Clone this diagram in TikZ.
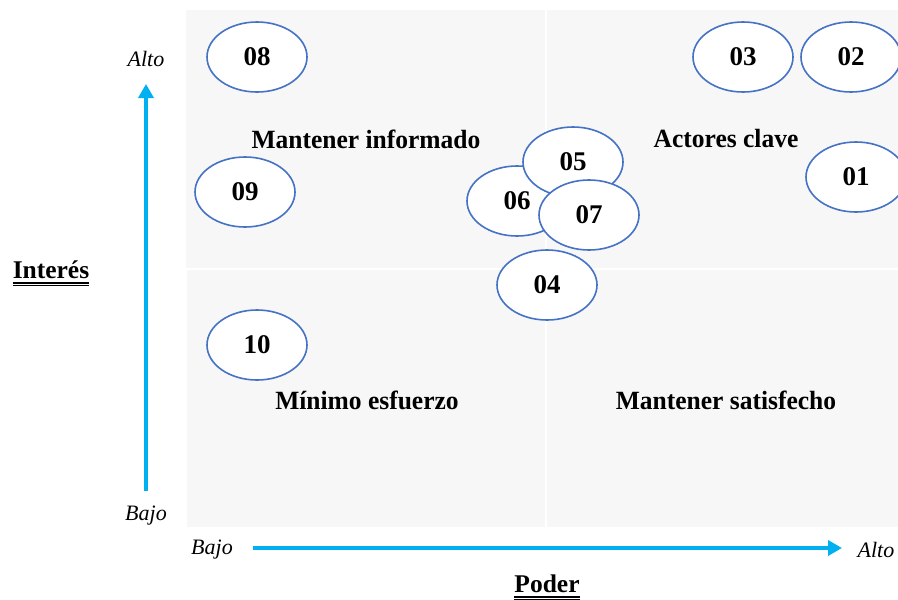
\documentclass[tikz,border=0pt]{standalone}
\usepackage{fontspec}
\setmainfont{Liberation Serif}
\newfontfamily\narrowserif[FakeStretch=0.97]{Liberation Serif}
\usetikzlibrary{arrows.meta,shapes.geometric}
\definecolor{quadfill}{RGB}{247,247,247}
\definecolor{actoredge}{RGB}{68,114,196}
\definecolor{axiscol}{RGB}{0,176,240}
\begin{document}
\begin{tikzpicture}[x=1pt,y=-1pt,
  quadrant/.style={fill=quadfill,draw=none},
  actor/.style={ellipse,draw=actoredge,fill=white,line width=1.6pt,
    minimum width=100pt,minimum height=70pt,inner sep=0pt,
    font=\fontsize{27}{27}\selectfont\bfseries},
  zone/.style={font=\narrowserif\fontsize{26.3}{28}\selectfont\bfseries},
  level/.style={font=\fontsize{22}{24}\selectfont\itshape},
  axistitle/.style={inner sep=0pt,font=\fontsize{25.5}{27}\selectfont\bfseries},
  ulthick/.style={line width=2pt},
  ulthin/.style={line width=0.8pt},
  axisarrow/.style={draw=axiscol,line width=4pt,
    -{Triangle[length=14pt,width=15pt]}}]
\useasboundingbox (0,0) rectangle (898,600);

% quadrant backgrounds
\fill[quadrant] (186,10) rectangle (545,268);
\fill[quadrant] (547,10) rectangle (898,268);
\fill[quadrant] (187,270) rectangle (545,527);
\fill[quadrant] (547,270) rectangle (898,527);

% quadrant names
\node[zone] (qinfo) at (366,139) {Mantener informado};
\node[zone] (qkey) at (726,139) {Actores clave};
\node[zone] (qmin) at (367,400) {Mínimo esfuerzo};
\node[zone] (qsat) at (726,400) {Mantener satisfecho};

% actors
\node[actor] (a08) at (257,57) {08};
\node[actor] (a03) at (743,57) {03};
\node[actor] (a02) at (851,57) {02};
\node[actor] (a01) at (856,177) {01};
\node[actor] (a09) at (245,192) {09};
\node[actor] (a06) at (517,201) {06};
\node[actor] (a05) at (573,162) {05};
\node[actor] (a07) at (589,215) {07};
\node[actor] (a04) at (547,285) {04};
\node[actor] (a10) at (257,345) {10};

% interest axis
\node[level] (ihigh) at (146,59) {Alto};
\node[level] (ilow) at (146,516) {Bajo};
\coordinate (istart) at (146,491);
\coordinate (iend) at (146,84);
\draw[axisarrow] (istart) -- (iend);
\node[axistitle] (ititle) at (51,270) {Interés};
\draw[ulthick] ([yshift=-4pt]ititle.base west) -- ([yshift=-4pt]ititle.base east);
\draw[ulthin] ([yshift=-6.8pt]ititle.base west) -- ([yshift=-6.8pt]ititle.base east);

% power axis
\node[level] (plow) at (212,550) {Bajo};
\node[level] (phigh) at (876,550) {Alto};
\coordinate (pstart) at (253,548);
\coordinate (pend) at (842,548);
\draw[axisarrow] (pstart) -- (pend);
\node[axistitle] (ptitle) at (547,584) {Poder};
\draw[ulthick] ([yshift=-4pt]ptitle.base west) -- ([yshift=-4pt]ptitle.base east);
\draw[ulthin] ([yshift=-6.8pt]ptitle.base west) -- ([yshift=-6.8pt]ptitle.base east);
\end{tikzpicture}
\end{document}
